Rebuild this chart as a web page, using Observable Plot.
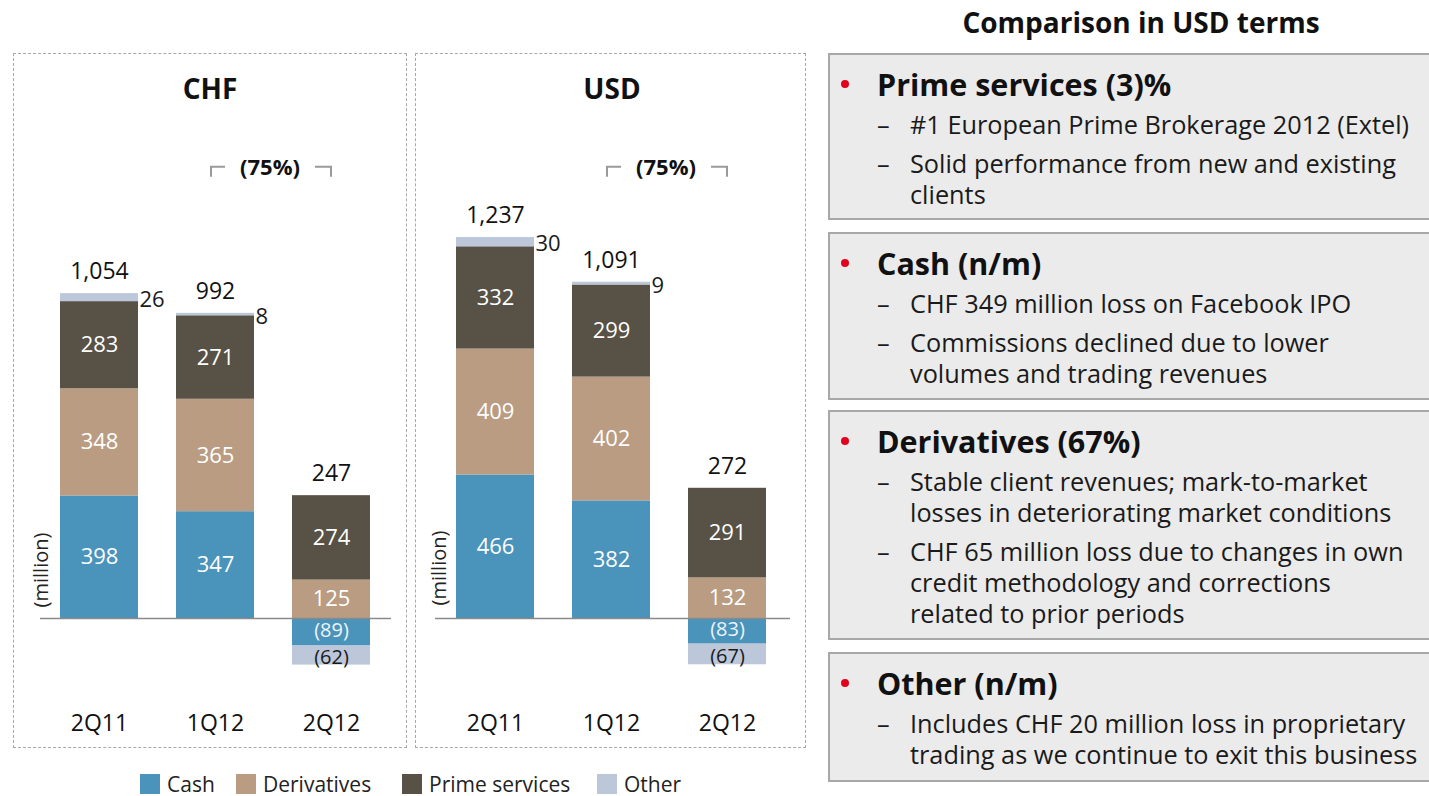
<!DOCTYPE html>
<html>
<head>
<meta charset="utf-8">
<script src="https://cdn.jsdelivr.net/npm/d3@7"></script>
<script src="https://cdn.jsdelivr.net/npm/@observablehq/plot@0.6"></script>
<style>
  html, body { margin: 0; padding: 0; background: #fff; }
  body { width: 1429px; height: 796px; overflow: hidden; position: relative; font-family: "Open Sans", "Noto Sans", sans-serif; color: #111; }
  .abs { position: absolute; }
  .panel { position: absolute; border: 1.5px dashed #a8a8a8; box-sizing: border-box; }
  .ptitle { position: absolute; font-weight: 700; font-size: 28px; transform: translate(-50%, -50%); white-space: nowrap; }
  .million { position: absolute; font-size: 20px; transform: translate(-50%, -50%) rotate(-90deg); white-space: nowrap; color: #222; }
  .legend { position: absolute; top: 773px; left: 0; font-size: 21px; color: #222; }
  .legend span.sw { position: absolute; width: 20px; height: 20px; top: 1px; }
  .legend span.lb { position: absolute; top: 0; white-space: nowrap; line-height: 22px; }
  .rtitle { position: absolute; left: 1141px; top: 22px; transform: translate(-50%, -50%); font-weight: 700; font-size: 28px; white-space: nowrap; }
  .box { position: absolute; left: 828px; width: 620px; background: #ebebeb; border: 2px solid #a8a8a8; box-sizing: border-box; padding: 12px 0 0 0; }
  .box .h { position: relative; padding-left: 47px; font-weight: 700; font-size: 30.5px; line-height: 34px; white-space: nowrap; }
  .box .h::before { content: ""; position: absolute; left: 11px; top: 13px; width: 8px; height: 8px; border-radius: 50%; background: #e3001b; }
  .box .s { position: relative; padding-left: 80px; margin-top: 8px; font-size: 25.3px; line-height: 31px; white-space: nowrap; color: #1a1a1a; }
  .box .s::before { content: "–"; position: absolute; left: 47px; top: 0; }
</style>
</head>
<body>
<div id="root"></div>
<script>
// ---------- data ----------
const periods = ["2Q11", "1Q12", "2Q12"];
const segments = ["Cash", "Derivatives", "Prime services", "Other"];
const segmentColors = ["#4a93ba", "#b99c82", "#575146", "#bcc7da"];

const chfCash = [398, 347, -89];
const chfDerivatives = [348, 365, 125];
const chfPrime = [283, 271, 274];
const chfOther = [26, 8, -62];
const chfTotal = [1054, 992, 247];

const usdCash = [466, 382, -83];
const usdDerivatives = [409, 402, 132];
const usdPrime = [332, 299, 291];
const usdOther = [30, 9, -67];
const usdTotal = [1237, 1091, 272];

const changeLabel = "(75%)";
const changeFrom = "1Q12";
const changeTo = "2Q12";

const comparisonTitle = "Comparison in USD terms";
const comparison = [
  {head: "Prime services (3)%", items: [["#1 European Prime Brokerage 2012 (Extel)"], ["Solid performance from new and existing", "clients"]]},
  {head: "Cash (n/m)", items: [["CHF 349 million loss on Facebook IPO"], ["Commissions declined due to lower", "volumes and trading revenues"]]},
  {head: "Derivatives (67%)", items: [["Stable client revenues; mark-to-market", "losses in deteriorating market conditions"], ["CHF 65 million loss due to changes in own", "credit methodology and corrections", "related to prior periods"]]},
  {head: "Other (n/m)", items: [["Includes CHF 20 million loss in proprietary", "trading as we continue to exit this business"]]}
];

// ---------- helpers ----------
const fmt = v => v < 0 ? `(${-v})` : d3.format(",")(v);
const FONT = '"Open Sans", "Noto Sans", sans-serif';

function buildRows(cash, der, prime, other) {
  const rows = [];
  periods.forEach((p, i) => {
    [cash, der, prime, other].forEach((arr, j) => rows.push({period: p, segment: segments[j], value: arr[i]}));
  });
  return rows;
}

function panelChart(rows, totals, layout) {
  const tops = periods.map(p => d3.sum(rows.filter(r => r.period === p && r.value > 0), r => r.value));
  const totalRows = periods.map((p, i) => ({period: p, top: tops[i], total: totals[i]}));
  const bracketValue = 1465;
  const bracket = (index, scales) => {
    const x = scales.x, y = scales.y;
    const bw = x.bandwidth();
    const x1 = x(changeFrom) + bw / 2 - 4;
    const x2 = x(changeTo) + bw / 2;
    const yy = y(bracketValue);
    const mid = (x1 + x2) / 2;
    const g = d3.create("svg:g").attr("fill", "none").attr("stroke", "#9a9a9a").attr("stroke-width", 2);
    g.append("path").attr("d", `M${x1},${yy + 10}V${yy}H${mid - 46}`);
    g.append("path").attr("d", `M${mid + 44},${yy}H${x2}V${yy + 10}`);
    g.append("text").attr("x", mid - 1).attr("y", yy).attr("dy", "0.35em").attr("text-anchor", "middle")
      .attr("stroke", "none").attr("fill", "#111").attr("font-weight", 700).attr("font-size", 22).text(changeLabel);
    return g.node();
  };
  return Plot.plot({
    width: layout.width,
    height: 640,
    marginLeft: layout.ml,
    marginRight: layout.mr,
    marginTop: 0,
    marginBottom: 40,
    style: {fontFamily: FONT, fontSize: "23px", color: "#111", background: "transparent", overflow: "visible"},
    x: {domain: periods, paddingInner: 0.328, paddingOuter: 0, tickSize: 0, tickPadding: 14, label: null},
    y: {domain: [-266, 1682], axis: null},
    color: {domain: segments, range: segmentColors},
    marks: [
      Plot.barY(rows, Plot.stackY({x: "period", y: "value", fill: "segment"})),
      Plot.ruleY([0], {stroke: "#8a8a8a", strokeWidth: 1.5, insetLeft: layout.il, insetRight: layout.ir}),
      Plot.text(rows, Plot.stackY({x: "period", y: "value", z: "segment",
        text: d => d.segment !== "Other" && d.value > 0 ? fmt(d.value) : "", fill: "#ffffff", fontSize: 22})),
      Plot.text(rows, Plot.stackY({x: "period", y: "value", z: "segment",
        text: d => d.segment !== "Other" && d.value < 0 ? fmt(d.value) : "", fill: "#eef4f8", fontSize: 20, dy: -2})),
      Plot.text(rows, Plot.stackY({x: "period", y: "value", z: "segment",
        text: d => d.segment === "Other" && d.value < 0 ? fmt(d.value) : "", fill: "#1a1a1a", fontSize: 20, dy: 2})),
      Plot.text(rows, Plot.stackY({x: "period", y: "value", z: "segment",
        text: d => d.segment === "Other" && d.value > 0 ? fmt(d.value) : "", fill: "#1a1a1a", fontSize: 22,
        textAnchor: "start", dx: 40, dy: 2})),
      Plot.text(totalRows, {x: "period", y: "top", text: d => fmt(d.total), fill: "#111", fontSize: 23, dy: -22}),
      bracket
    ]
  });
}

// ---------- layout ----------
const root = document.getElementById("root");
function addEl(tag, cls, css, html) {
  const e = document.createElement(tag);
  if (cls) e.className = cls;
  Object.assign(e.style, css || {});
  if (html != null) e.textContent = html;
  root.appendChild(e);
  return e;
}

addEl("div", "panel", {left: "13px", top: "53px", width: "394px", height: "695px"});
addEl("div", "panel", {left: "415px", top: "53px", width: "391px", height: "695px"});
addEl("div", "ptitle", {left: "210px", top: "88px"}, "CHF");
addEl("div", "ptitle", {left: "612px", top: "88px"}, "USD");
addEl("div", "million", {left: "40px", top: "570px"}, "(million)");
addEl("div", "million", {left: "438px", top: "568px"}, "(million)");

const chf = panelChart(buildRows(chfCash, chfDerivatives, chfPrime, chfOther), chfTotal,
  {width: 394, ml: 47, mr: 37, il: -20, ir: -21});
const chfWrap = addEl("div", "abs", {left: "13px", top: "100px"});
chfWrap.appendChild(chf);

const usd = panelChart(buildRows(usdCash, usdDerivatives, usdPrime, usdOther), usdTotal,
  {width: 391, ml: 41, mr: 40, il: -21, ir: -24});
const usdWrap = addEl("div", "abs", {left: "415px", top: "100px"});
usdWrap.appendChild(usd);

// legend
const legend = addEl("div", "legend", {});
const legendX = [140, 236, 402, 597];
segments.forEach((s, i) => {
  const sw = document.createElement("span"); sw.className = "sw";
  sw.style.left = legendX[i] + "px"; sw.style.background = segmentColors[i];
  const lb = document.createElement("span"); lb.className = "lb";
  lb.style.left = (legendX[i] + 27) + "px"; lb.textContent = s;
  legend.appendChild(sw); legend.appendChild(lb);
});

// right side
addEl("div", "rtitle", {}, comparisonTitle);
const boxPos = [[53, 167], [232, 168], [410, 230], [652, 130]];
comparison.forEach((c, i) => {
  const b = addEl("div", "box", {top: boxPos[i][0] + "px", height: boxPos[i][1] + "px"});
  const h = document.createElement("div"); h.className = "h"; h.textContent = c.head; b.appendChild(h);
  c.items.forEach(lines => {
    const s = document.createElement("div"); s.className = "s";
    lines.forEach((l, k) => { if (k) s.appendChild(document.createElement("br")); s.appendChild(document.createTextNode(l)); });
    b.appendChild(s);
  });
});
</script>
</body>
</html>
